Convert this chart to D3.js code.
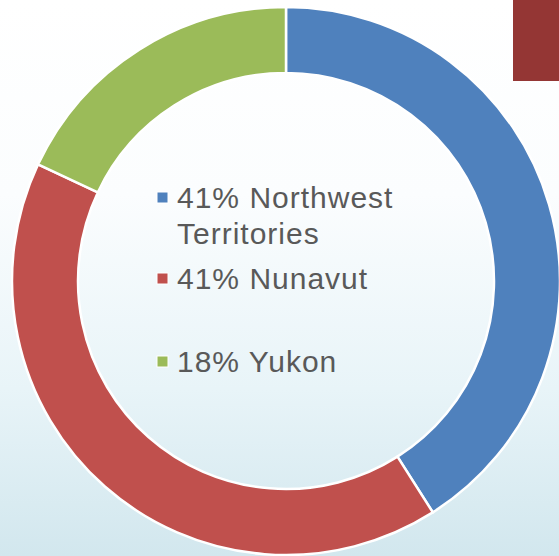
<!DOCTYPE html>
<html>
<head>
<meta charset="utf-8">
<script src="https://cdn.jsdelivr.net/npm/d3@7"></script>
<style>
  body { margin: 0; }
  .legend text { font-family: "Liberation Sans", Arial, sans-serif; fill: #595959; }
</style>
</head>
<body>
<svg id="chart" width="559" height="556"></svg>
<script>
// shares of the three territories, clockwise from 12 o'clock
var categories = ["Northwest Territories", "Nunavut", "Yukon"];
var values = [41, 41, 18];
var colors = ["#4f81bd", "#c0504d", "#9bbb59"];
// legend lines as shown (first one wraps)
var legendLines = [["41% Northwest", "Territories"], ["41% Nunavut"], ["18% Yukon"]];

var svg = d3.select("#chart");

// background gradient
var defs = svg.append("defs");
var grad = defs.append("linearGradient")
  .attr("id", "bg").attr("x1", 0).attr("y1", 0).attr("x2", 0).attr("y2", 1);
grad.append("stop").attr("offset", "0%").attr("stop-color", "#ffffff");
grad.append("stop").attr("offset", "35%").attr("stop-color", "#fbfdfe");
grad.append("stop").attr("offset", "70%").attr("stop-color", "#e8f4f8");
grad.append("stop").attr("offset", "100%").attr("stop-color", "#d2e7ee");

svg.append("rect").attr("width", 559).attr("height", 556).attr("fill", "url(#bg)");

// dark red block top right
svg.append("rect")
  .attr("x", 513).attr("y", 0).attr("width", 46).attr("height", 81)
  .attr("fill", "#943634");

var cx = 286, cy = 281;
var outerR = 274, innerR = 208;

var pie = d3.pie().sort(null).value(function(d) { return d; });
var arc = d3.arc().innerRadius(innerR).outerRadius(outerR);

var g = svg.append("g").attr("transform", "translate(" + cx + "," + cy + ")");

g.selectAll("path.slice")
  .data(pie(values))
  .enter()
  .append("path")
  .attr("class", "slice")
  .attr("d", arc)
  .attr("fill", function(d, i) { return colors[i]; })
  .attr("stroke", "#ffffff")
  .attr("stroke-width", 2.5)
  .attr("stroke-linejoin", "miter");

// legend
var legendY = [208, 289, 372];
var legend = svg.append("g").attr("class", "legend");

var item = legend.selectAll("g.item")
  .data(categories)
  .enter()
  .append("g")
  .attr("class", "item");

item.append("rect")
  .attr("x", 157)
  .attr("y", function(d, i) { return legendY[i] - 16; })
  .attr("width", 11).attr("height", 11)
  .attr("fill", function(d, i) { return colors[i]; })
  .attr("stroke", "#ffffff")
  .attr("stroke-width", 1);

item.append("text")
  .attr("x", 177)
  .attr("y", function(d, i) { return legendY[i]; })
  .style("font-size", "30px")
  .style("letter-spacing", "1px")
  .each(function(d, i) {
    var t = d3.select(this);
    legendLines[i].forEach(function(line, j) {
      t.append("tspan").attr("x", 177).attr("dy", j === 0 ? 0 : 36).text(line);
    });
  });
</script>
</body>
</html>
